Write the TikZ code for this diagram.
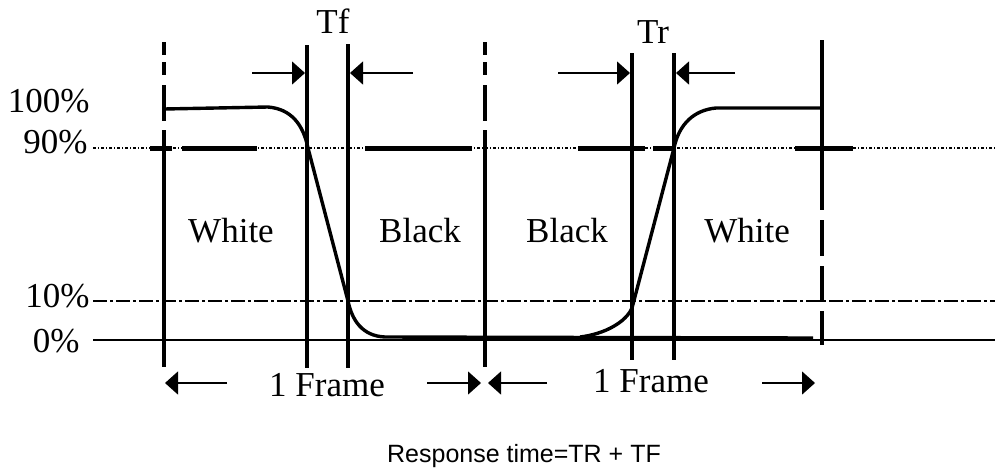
\documentclass[tikz,border=0pt]{standalone}
\usepackage{fontspec}
\setmainfont{Liberation Serif}
\setsansfont{Liberation Sans}
\usetikzlibrary{arrows.meta}

\begin{document}
\begin{tikzpicture}[
  x=0.5pt, y=-0.5pt,
  >=Triangle,
  font=\fontsize{17.5}{20}\selectfont,
  frameline/.style={line width=2.4pt},
  signal/.style={line width=1.7pt, line join=round},
  levelzero/.style={line width=0.6pt},
  levelten/.style={line width=0.6pt, dash pattern=on 7pt off 1.5pt on 1.5pt off 1.5pt},
  levelninety/.style={line width=0.7pt, dash pattern=on 1.5pt off 1pt on 0.5pt off 1pt},
  ninetybar/.style={line width=2.5pt},
  arr/.style={-{Triangle[length=6.5pt, width=11.5pt]}, line width=0.6pt},
  lbl/.style={anchor=base, inner sep=0pt},
  pct/.style={anchor=base east, inner sep=0pt}
]
\useasboundingbox (0,0) rectangle (995,472);

\node[pct] (p100) at (90,112) {100\%};
\node[pct] (p90) at (88,153) {90\%};
\node[pct] (p10) at (90,307) {10\%};
\node[pct] (p0) at (80,352) {0\%};

\coordinate (l0a) at (93,340);   \coordinate (l0b) at (995,340);
\coordinate (l10a) at (93,301);  \coordinate (l10b) at (995,301);
\coordinate (l90a) at (93,148);  \coordinate (l90b) at (995,148);

\draw[levelzero] (l0a) -- (l0b);
\draw[levelten] (l10a) -- (l10b);
\draw[levelninety] (l90a) -- (l90b);
\foreach \a/\b in {150/172, 182/257, 365/472, 578/645, 653/673, 795/853}
  \draw[ninetybar] (\a,148) -- (\b,148);

% frame borders and transition markers
\coordinate (v1t) at (164,42);  \coordinate (v1b) at (164,367);
\coordinate (v2t) at (485,42);  \coordinate (v2b) at (485,367);
\coordinate (v3t) at (822,40);  \coordinate (v3b) at (822,345);
\coordinate (tf1t) at (307,45); \coordinate (tf1b) at (307,368);
\coordinate (tf2t) at (348,44); \coordinate (tf2b) at (348,368);
\coordinate (tr1t) at (632,53); \coordinate (tr1b) at (632,360);
\coordinate (tr2t) at (674,53); \coordinate (tr2b) at (674,360);

\draw[frameline, dash pattern=on 6.5pt off 3.5pt on 6.5pt off 5pt on 18pt off 4.5pt on 200pt] (v1t) -- (v1b);
\draw[frameline, dash pattern=on 6.5pt off 3.5pt on 6.5pt off 5pt on 18pt off 4.5pt on 200pt] (v2t) -- (v2b);
\draw[frameline, dash pattern=on 85pt off 5pt on 18pt off 5pt on 18pt off 4.5pt on 40pt] (v3t) -- (v3b);
\draw[frameline] (tf1t) -- (tf1b);
\draw[frameline] (tf2t) -- (tf2b);
\draw[frameline] (tr1t) -- (tr1b);
\draw[frameline] (tr2t) -- (tr2b);

\draw[signal] (164,109) -- (268,107) .. controls (291,109) and (303,124) .. (308,148)
  -- (348,301) .. controls (352,320) and (362,336) .. (385,337) -- (813,338);
\draw[signal] (580,337) .. controls (605,334) and (626,322) .. (632,308)
  -- (674,148) .. controls (679,124) and (694,110) .. (716,108) -- (822,108);

\node[lbl] (tf) at (333,33) {Tf};
\node[lbl] (tr) at (653,43) {Tr};

\coordinate (tfla) at (252,73); \coordinate (tflb) at (305,73);
\coordinate (tfra) at (413,73); \coordinate (tfrb) at (350,73);
\coordinate (trla) at (558,73); \coordinate (trlb) at (630,73);
\coordinate (trra) at (735,73); \coordinate (trrb) at (676,73);
\draw[arr] (tfla) -- (tflb);
\draw[arr] (tfra) -- (tfrb);
\draw[arr] (trla) -- (trlb);
\draw[arr] (trra) -- (trrb);

\node[lbl] (white1) at (231,242) {White};
\node[lbl] (black1) at (420,242) {Black};
\node[lbl] (black2) at (567,242) {Black};
\node[lbl] (white2) at (747,242) {White};

\node[lbl] (frame1) at (327,396) {1 Frame};
\node[lbl] (frame2) at (651,392) {1 Frame};
\coordinate (f1la) at (227,383); \coordinate (f1lb) at (165,383);
\coordinate (f1ra) at (427,383); \coordinate (f1rb) at (481,383);
\coordinate (f2la) at (547,383); \coordinate (f2lb) at (488,383);
\coordinate (f2ra) at (762,383); \coordinate (f2rb) at (815,383);
\draw[arr] (f1la) -- (f1lb);
\draw[arr] (f1ra) -- (f1rb);
\draw[arr] (f2la) -- (f2lb);
\draw[arr] (f2ra) -- (f2rb);

\node[lbl, font=\sffamily\fontsize{12.5}{14}\selectfont] (resp) at (524,462) {Response time=TR + TF};
\end{tikzpicture}
\end{document}
